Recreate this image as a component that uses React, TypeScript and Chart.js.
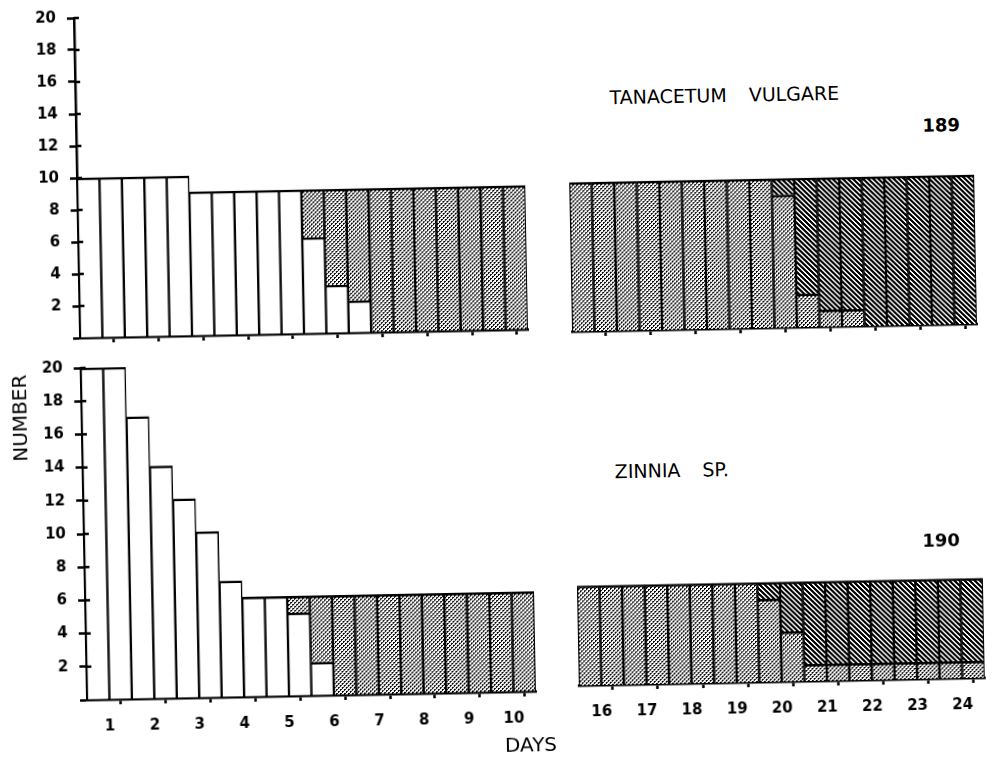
import React, { useEffect, useRef } from 'react';
import { Chart, registerables } from 'chart.js';

Chart.register(...registerables);

// ---------------- data ----------------
// day labels (each day = two half-day observation bars)
const EARLY_DAYS = ['1', '2', '3', '4', '5', '6', '7', '8', '9', '10'];
const LATE_DAYS = ['16', '17', '18', '19', '20', '21', '22', '23', '24'];
const Y_TICKS = [0, 2, 4, 6, 8, 10, 12, 14, 16, 18, 20];

// Tanacetum vulgare (189)
const TAN_EARLY_OPEN = [10, 10, 10, 10, 10, 9, 9, 9, 9, 9, 6, 3, 2, 0, 0, 0, 0, 0, 0, 0];
const TAN_EARLY_STIPPLED = [0, 0, 0, 0, 0, 0, 0, 0, 0, 0, 3, 6, 7, 9, 9, 9, 9, 9, 9, 9];
const TAN_LATE_STIPPLED = [9, 9, 9, 9, 9, 9, 9, 9, 9, 8, 2, 1, 1, 0, 0, 0, 0, 0];
const TAN_LATE_HATCHED = [0, 0, 0, 0, 0, 0, 0, 0, 0, 1, 7, 8, 8, 9, 9, 9, 9, 9];

// Zinnia sp. (190)
const ZIN_EARLY_OPEN = [20, 20, 17, 14, 12, 10, 7, 6, 6, 5, 2, 0, 0, 0, 0, 0, 0, 0, 0, 0];
const ZIN_EARLY_STIPPLED = [0, 0, 0, 0, 0, 0, 0, 0, 0, 1, 4, 6, 6, 6, 6, 6, 6, 6, 6, 6];
const ZIN_LATE_STIPPLED = [6, 6, 6, 6, 6, 6, 6, 6, 5, 3, 1, 1, 1, 1, 1, 1, 1, 1];
const ZIN_LATE_HATCHED = [0, 0, 0, 0, 0, 0, 0, 0, 1, 3, 5, 5, 5, 5, 5, 5, 5, 5];

// ---------------- styling ----------------
type FillKind = 'open' | 'stippled' | 'hatched';

function makeFills(): Record<FillKind, any> {
  const st = document.createElement('canvas');
  st.width = 4; st.height = 4;
  const s = st.getContext('2d')!;
  s.fillStyle = '#fff'; s.fillRect(0, 0, 4, 4);
  s.fillStyle = '#000';
  s.fillRect(0, 0, 1, 1); s.fillRect(1, 0, 1, 1); s.fillRect(0, 1, 1, 1);
  s.fillRect(2, 2, 1, 1); s.fillRect(3, 2, 1, 1); s.fillRect(2, 3, 1, 1);

  const ht = document.createElement('canvas');
  ht.width = 5; ht.height = 5;
  const h = ht.getContext('2d')!;
  h.fillStyle = '#fff'; h.fillRect(0, 0, 5, 5);
  h.fillStyle = '#000';
  for (let y = 0; y < 5; y++) {
    for (let x = 0; x < 5; x++) {
      if ((((x - y) % 5) + 5) % 5 < 3) h.fillRect(x, y, 1, 1);
    }
  }
  const base = document.createElement('canvas').getContext('2d')!;
  return {
    open: '#ffffff',
    stippled: base.createPattern(st, 'repeat'),
    hatched: base.createPattern(ht, 'repeat'),
  };
}

const TICK_FONT = { family: 'DejaVu Sans', size: 15, weight: 'bold' as const };

const crossTicks = {
  id: 'crossTicks',
  afterDraw(chart: any) {
    const y = chart.scales.y;
    if (!y || !y.options.display) return;
    const ctx = chart.ctx;
    const left = chart.chartArea.left;
    ctx.save();
    ctx.strokeStyle = '#000';
    ctx.lineWidth = 2.5;
    y.ticks.forEach((t: any) => {
      if (t.value <= 0) return;
      const p = y.getPixelForValue(t.value);
      ctx.beginPath();
      ctx.moveTo(left, p);
      ctx.lineTo(left + 5, p);
      ctx.stroke();
    });
    ctx.restore();
  },
};

interface Series { name: string; values: number[]; fill: FillKind }
interface Spec {
  key: string;
  x: number; y: number; w: number; h: number;
  padding: { top: number; right: number; bottom: number; left: number };
  yWidth: number; xHeight: number; yMax: number; showY: boolean;
  days: string[] | null;
  series: Series[];
}

const SPECS: Spec[] = [
  {
    key: 'tan-early', x: 0, y: -10, w: 545, h: 360,
    padding: { top: 17, right: 16, bottom: 0, left: 0 },
    yWidth: 81, xHeight: 12, yMax: 20, showY: true, days: null,
    series: [
      { name: 'open', values: TAN_EARLY_OPEN, fill: 'open' },
      { name: 'stippled', values: TAN_EARLY_STIPPLED, fill: 'stippled' },
    ],
  },
  {
    key: 'tan-late', x: 560, y: 150, w: 432, h: 195,
    padding: { top: 17.5, right: 14, bottom: 0, left: 13 },
    yWidth: 0, xHeight: 12, yMax: 10, showY: false, days: null,
    series: [
      { name: 'stippled', values: TAN_LATE_STIPPLED, fill: 'stippled' },
      { name: 'hatched', values: TAN_LATE_HATCHED, fill: 'hatched' },
    ],
  },
  {
    key: 'zin-early', x: 0, y: 340, w: 545, h: 424,
    padding: { top: 19, right: 15, bottom: 0, left: 0 },
    yWidth: 81, xHeight: 72, yMax: 20, showY: true, days: EARLY_DAYS,
    series: [
      { name: 'open', values: ZIN_EARLY_OPEN, fill: 'open' },
      { name: 'stippled', values: ZIN_EARLY_STIPPLED, fill: 'stippled' },
    ],
  },
  {
    key: 'zin-late', x: 560, y: 500, w: 432, h: 264,
    padding: { top: 21.5, right: 13, bottom: 0, left: 12 },
    yWidth: 0, xHeight: 77, yMax: 10, showY: false, days: LATE_DAYS,
    series: [
      { name: 'stippled', values: ZIN_LATE_STIPPLED, fill: 'stippled' },
      { name: 'hatched', values: ZIN_LATE_HATCHED, fill: 'hatched' },
    ],
  },
];

function buildConfig(spec: Spec, fills: Record<FillKind, any>): any {
  const n = spec.series[0].values.length;
  const datasets = spec.series.map((s) => ({
    label: s.name,
    data: s.values.map((v, i) => ({ x: i + 0.5, y: v })),
    backgroundColor: fills[s.fill],
    borderColor: '#000',
    borderWidth: { top: 2.5, right: 1.5, bottom: 0, left: 1.5 },
    borderSkipped: false,
    barPercentage: 1,
    categoryPercentage: 1,
  }));
  return {
    type: 'bar',
    data: { datasets },
    options: {
      responsive: false,
      animation: false,
      events: [],
      layout: { padding: spec.padding },
      plugins: { legend: { display: false }, tooltip: { enabled: false }, title: { display: false } },
      scales: {
        x: {
          type: 'linear', stacked: true, min: 0, max: n, offset: false,
          afterBuildTicks: (sc: any) => {
            sc.ticks = Array.from({ length: n + 1 }, (_, i) => ({ value: i }));
          },
          afterFit: (sc: any) => { sc.height = spec.xHeight; },
          grid: {
            display: true, drawOnChartArea: false, drawTicks: true,
            tickLength: 5, tickWidth: 2.5,
            tickColor: (c: any) => (c.tick && c.tick.value % 2 === 0 ? '#000' : 'rgba(0,0,0,0)'),
          },
          border: { display: true, color: '#000', width: 2.5 },
          ticks: {
            display: !!spec.days, autoSkip: false, maxRotation: 0, minRotation: 0,
            padding: 13, color: '#000', font: TICK_FONT,
            callback: (v: number) => (spec.days && v % 2 === 1 ? spec.days[(v - 1) / 2] : ''),
          },
        },
        y: {
          type: 'linear', stacked: true, display: spec.showY, min: 0, max: spec.yMax,
          afterBuildTicks: (sc: any) => {
            sc.ticks = Y_TICKS.filter((v) => v <= spec.yMax).map((v) => ({ value: v }));
          },
          afterFit: (sc: any) => { sc.width = spec.yWidth; },
          grid: { display: true, drawOnChartArea: false, drawTicks: true, tickLength: 7, tickWidth: 2.5, tickColor: '#000' },
          border: { display: true, color: '#000', width: 2.5 },
          ticks: {
            padding: 11, color: '#000', font: TICK_FONT,
            callback: (v: number) => (v === 0 ? '' : String(v)),
          },
        },
      },
    },
    plugins: [crossTicks],
  };
}

function Section({ spec }: { spec: Spec }) {
  const ref = useRef<HTMLCanvasElement>(null);
  useEffect(() => {
    const fills = makeFills();
    const chart = new Chart(ref.current as HTMLCanvasElement, buildConfig(spec, fills));
    return () => chart.destroy();
  }, [spec]);
  return (
    <canvas
      ref={ref}
      width={spec.w}
      height={spec.h}
      style={{ position: 'absolute', left: spec.x, top: spec.y, width: spec.w, height: spec.h }}
    />
  );
}

const textBase: React.CSSProperties = {
  position: 'absolute',
  whiteSpace: 'nowrap',
  color: '#000',
  lineHeight: 1,
  fontFamily: '"DejaVu Sans", sans-serif',
};

export default function App() {
  return (
    <div style={{ position: 'fixed', left: 0, top: 0, width: 992, height: 764, overflow: 'hidden', background: '#fff' }}>
      <div
        style={{
          position: 'absolute', left: 0, top: 0, width: 992, height: 764,
          transform: 'rotate(-1.1deg)', transformOrigin: '496px 382px',
        }}
      >
        {SPECS.map((s) => (
          <Section key={s.key} spec={s} />
        ))}
        <div style={{ ...textBase, left: 615, top: 99.5, transform: 'translateY(-50%)', fontSize: 19, wordSpacing: 16 }}>
          TANACETUM VULGARE
        </div>
        <div style={{ ...textBase, left: 946, top: 133.5, transform: 'translate(-50%, -50%)', fontSize: 18, fontWeight: 'bold' }}>
          189
        </div>
        <div style={{ ...textBase, left: 613, top: 473.5, transform: 'translateY(-50%)', fontSize: 19, wordSpacing: 16 }}>
          ZINNIA SP.
        </div>
        <div style={{ ...textBase, left: 938, top: 548.5, transform: 'translate(-50%, -50%)', fontSize: 18, fontWeight: 'bold' }}>
          190
        </div>
        <div style={{ ...textBase, left: 19, top: 409, transform: 'translate(-50%, -50%) rotate(-90deg)', fontSize: 20 }}>
          NUMBER
        </div>
        <div style={{ ...textBase, left: 524, top: 745, transform: 'translate(-50%, -50%)', fontSize: 20 }}>
          DAYS
        </div>
      </div>
    </div>
  );
}
